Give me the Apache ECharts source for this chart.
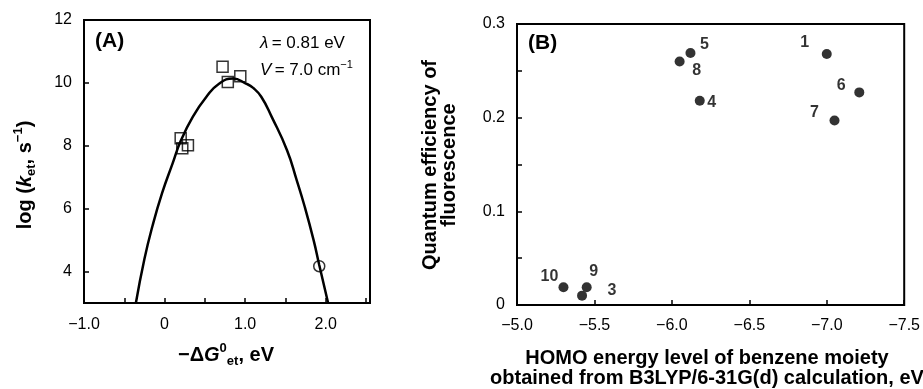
<!DOCTYPE html>
<html>
<head>
<meta charset="utf-8">
<script src="https://cdn.jsdelivr.net/npm/echarts@6/dist/echarts.min.js"></script>
<style>
html,body{margin:0;padding:0;background:#fff;}
#chart{width:923px;height:389px;}
</style>
</head>
<body>
<div id="chart"></div>
<script>
// ---- Panel A data ----
const curveX = [-0.356, -0.25, -0.15, -0.03, 0.10, 0.20, 0.35, 0.52, 0.68, 0.85, 1.01, 1.10, 1.20, 1.33, 1.52, 1.64, 1.74, 1.85, 1.92, 2.03];
const curveY = [3.0, 4.4, 5.45, 6.5, 7.44, 8.15, 8.92, 9.56, 9.98, 10.14, 9.98, 9.84, 9.56, 8.92, 7.86, 6.91, 6.06, 5.0, 4.21, 3.0];
const squareX = [0.20, 0.22, 0.29, 0.72, 0.785, 0.94];
const squareY = [8.24, 7.92, 8.02, 10.51, 10.03, 10.21];
const circleX = [1.92];
const circleY = [4.17];
const aXTicks = [-1, -0.5, 0, 0.5, 1, 1.5, 2, 2.5];
const aXLabels = [-1, 0, 1, 2];
const aYTicks = [4, 6, 8, 10, 12];

// ---- Panel B data ----
const compoundIds = ['1', '5', '8', '4', '6', '7', '10', '9', '3'];
const homoEnergy = [-7.00, -6.12, -6.05, -6.18, -7.21, -7.05, -5.30, -5.45, -5.42];
const quantumEff = [0.268, 0.269, 0.260, 0.218, 0.227, 0.197, 0.019, 0.019, 0.010];
const bXTicks = [-5, -5.5, -6, -6.5, -7, -7.5];
const bYTicks = [0, 0.05, 0.1, 0.15, 0.2, 0.25, 0.3];
const bYLabels = [0, 0.1, 0.2, 0.3];

// label placement (styling, not data)
const labelOffsets = {
  '1': [-22, -11], '5': [14, -8], '8': [17, 9], '4': [12, 2], '6': [-18, -7],
  '7': [-20, -8], '10': [-14, -11], '9': [7, -16], '3': [30, -5]
};

const FONT = '"Liberation Sans", Arial, Helvetica, sans-serif';
const minus = v => (v < 0 ? '\u2212' : '') + Math.abs(v).toFixed(1);

const chart = echarts.init(document.getElementById('chart'), null, {renderer: 'canvas'});

const tickStyle = {show: true, inside: true, length: 5, lineStyle: {color: '#000', width: 1.5}};
const labelStyle = {color: '#000', fontSize: 16, fontFamily: FONT};
const noLine = {show: false, onZero: false};

const sup = {fontSize: 13, fontWeight: 'bold', fontFamily: FONT, verticalAlign: 'top', lineHeight: 13, color: '#000'};
const sub = {fontSize: 13, fontWeight: 'bold', fontFamily: FONT, verticalAlign: 'bottom', lineHeight: 13, color: '#000'};
const nb = {fontSize: 20, fontWeight: 'bold', fontFamily: FONT, lineHeight: 26, color: '#000'};
const ib = {fontSize: 20, fontWeight: 'bold', fontStyle: 'italic', fontFamily: FONT, lineHeight: 26, color: '#000'};
const nr = {fontSize: 17, fontFamily: FONT, lineHeight: 22, color: '#000'};
const ir = {fontSize: 17, fontStyle: 'italic', fontFamily: FONT, lineHeight: 22, color: '#000'};
const supr = {fontSize: 11, fontFamily: FONT, verticalAlign: 'top', lineHeight: 12, color: '#000'};

const option = {
  backgroundColor: '#fff',
  animation: false,
  grid: [
    {left: 84, top: 20, width: 286, height: 283, show: true, borderColor: '#000', borderWidth: 2, backgroundColor: 'transparent', containLabel: false},
    {left: 517, top: 24, width: 391, height: 281, show: true, borderColor: '#000', borderWidth: 2, backgroundColor: 'transparent', containLabel: false}
  ],
  xAxis: [
    {
      gridIndex: 0, type: 'value', min: -1, max: 2.55,
      axisLine: noLine, splitLine: {show: false},
      axisTick: Object.assign({customValues: aXTicks}, tickStyle),
      axisLabel: Object.assign({customValues: aXLabels, margin: 14, formatter: v => v === 0 ? '0' : minus(v)}, labelStyle)
    },
    {
      gridIndex: 1, type: 'value', min: -7.5, max: -5, inverse: true,
      axisLine: noLine, splitLine: {show: false},
      axisTick: Object.assign({customValues: bXTicks}, tickStyle),
      axisLabel: Object.assign({customValues: bXTicks, margin: 13, formatter: v => minus(v)}, labelStyle)
    }
  ],
  yAxis: [
    {
      gridIndex: 0, type: 'value', min: 3, max: 12,
      axisLine: noLine, splitLine: {show: false},
      axisTick: Object.assign({customValues: aYTicks}, tickStyle),
      axisLabel: Object.assign({customValues: aYTicks, margin: 12}, labelStyle)
    },
    {
      gridIndex: 1, type: 'value', min: 0, max: 0.3,
      axisLine: noLine, splitLine: {show: false},
      axisTick: Object.assign({customValues: bYTicks}, tickStyle),
      axisLabel: Object.assign({customValues: bYLabels, margin: 12, formatter: v => v === 0 ? '0' : v.toFixed(1)}, labelStyle)
    }
  ],
  series: [
    {
      type: 'line', xAxisIndex: 0, yAxisIndex: 0, smooth: true, showSymbol: false, clip: true,
      lineStyle: {color: '#000', width: 2.5},
      data: curveX.map((x, i) => [x, curveY[i]]), z: 2
    },
    {
      type: 'scatter', xAxisIndex: 0, yAxisIndex: 0, symbol: 'rect', symbolSize: 11,
      itemStyle: {color: 'rgba(255,255,255,0)', borderColor: '#000', borderWidth: 1.5},
      data: squareX.map((x, i) => [x, squareY[i]]), z: 3
    },
    {
      type: 'scatter', xAxisIndex: 0, yAxisIndex: 0, symbol: 'circle', symbolSize: 11,
      itemStyle: {color: 'rgba(255,255,255,0)', borderColor: '#000', borderWidth: 1.5},
      data: circleX.map((x, i) => [x, circleY[i]]), z: 3
    },
    {
      type: 'scatter', xAxisIndex: 1, yAxisIndex: 1, symbol: 'circle', symbolSize: 10,
      itemStyle: {color: '#000'},
      label: {show: true, position: 'inside', color: '#000', fontSize: 16, fontWeight: 'bold', fontFamily: FONT,
              formatter: p => compoundIds[p.dataIndex]},
      data: homoEnergy.map((x, i) => ({value: [x, quantumEff[i]], label: {offset: labelOffsets[compoundIds[i]]}}))
    }
  ],
  graphic: [
    {type: 'text', left: 95, top: 31, style: {text: '(A)', font: 'bold 21px ' + FONT, fill: '#000'}},
    {type: 'text', left: 528, top: 33, style: {text: '(B)', font: 'bold 21px ' + FONT, fill: '#000'}},
    {type: 'text', x: 260, y: 43, style: {text: '{i|\u03bb} {n|= 0.81 eV}', rich: {i: ir, n: nr}, verticalAlign: 'middle', align: 'left'}},
    {type: 'text', x: 260, y: 70, style: {text: '{i|V} {n|= 7.0 cm}{s|\u22121}', rich: {i: ir, n: nr, s: supr}, verticalAlign: 'middle', align: 'left'}},
    {type: 'text', x: 25, y: 175, rotation: Math.PI / 2,
      style: {text: '{n|log (}{i|k}{b|et}{n|, s}{s|\u22121}{n|)}', rich: {n: nb, i: ib, b: sub, s: sup}, align: 'center', verticalAlign: 'middle'}},
    {type: 'text', x: 226, y: 355,
      style: {text: '{n|\u2212\u0394}{i|G}{s|0}{b|et}{n|, eV}', rich: {n: nb, i: ib, b: sub, s: sup}, align: 'center', verticalAlign: 'middle'}},
    {type: 'text', x: 440, y: 165, rotation: Math.PI / 2,
      style: {text: 'Quantum efficiency of\nfluorescence', font: 'bold 20px ' + FONT, lineHeight: 19, fill: '#000', align: 'center', verticalAlign: 'middle'}},
    {type: 'text', x: 707, y: 368,
      style: {text: 'HOMO energy level of benzene moiety\nobtained from B3LYP/6-31G(d) calculation, eV', font: 'bold 20px ' + FONT, lineHeight: 20, fill: '#000', align: 'center', verticalAlign: 'middle'}}
  ]
};
chart.setOption(option);
</script>
</body>
</html>
